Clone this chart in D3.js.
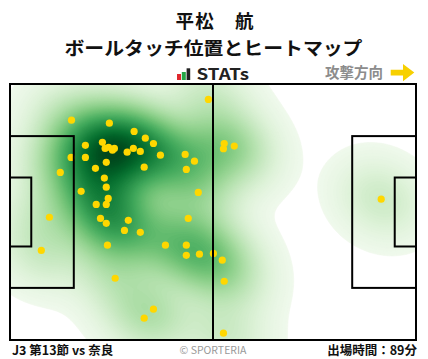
<!DOCTYPE html>
<html><head><meta charset="utf-8">
<script src="https://cdn.jsdelivr.net/npm/d3@7"></script>
<style>
html,body{margin:0;padding:0;background:#fff;}
svg{display:block;}
text{font-family:"Noto Sans CJK JP","Noto Sans",sans-serif;}
</style></head>
<body>
<svg id="chart" width="428" height="359"></svg>
<script>
// ---- data (pitch coordinates in metres, 105 x 68, attacking to the right) ----
const touchX = [51.3,15.9,25.7,32.1,35.0,23.9,37.1,19.5,24.6,25.5,27.0,26.5,30.3,31.9,33.7,38.9,45.3,47.7,15.8,19.5,
  24.9,22.1,34.7,45.6,13.0,24.4,24.9,18.4,48.7,25.4,22.3,24.9,10.2,23.4,24.9,30.6,46.1,29.6,33.7,8.1,
  25.2,40.2,45.6,45.6,49.0,52.6,27.2,37.1,34.7,54.9,55.4,55.2,55.4,55.2,58.0,96.0];
const touchY = [4.1,9.6,10.4,12.6,14.4,15.5,15.8,16.3,17.1,16.8,17.1,17.6,18.1,17.1,17.9,18.9,18.7,20.5,19.5,19.5,
  20.8,22.4,22.1,22.7,23.5,25.0,27.4,28.5,28.8,30.4,32.0,32.0,35.4,35.7,37.0,36.2,35.7,38.9,39.4,44.2,
  42.8,42.8,42.8,45.5,45.2,45.0,51.6,59.8,62.2,46.8,52.4,66.2,15.8,17.2,16.5,30.6];
const titleLines = ["平松\u3000航", "ボールタッチ位置とヒートマップ"];
const brandLabel = "STATs";
const directionLabel = "攻撃方向";
const footerLeft = "J3 第13節 vs 奈良";
const footerCenter = "© SPORTERIA";
const footerRight = "出場時間：89分";
const pitchLength = 105, pitchWidth = 68;

// ---- layout ----
const svg = d3.select("#chart");
const X0 = 10, X1 = 416, Y0 = 84, Y1 = 340;
const x = d3.scaleLinear().domain([0, pitchLength]).range([X0, X1]);
const y = d3.scaleLinear().domain([0, pitchWidth]).range([Y0, Y1]);

// titles
svg.append("text").attr("x", 214.5).attr("y", 27.5).attr("text-anchor", "middle")
  .attr("font-size", 18.5).attr("font-weight", 700).attr("fill", "#111")
  .attr("textLength", 78).attr("lengthAdjust", "spacing").text(titleLines[0]);
svg.append("text").attr("x", 213.5).attr("y", 54.5).attr("text-anchor", "middle")
  .attr("font-size", 18.5).attr("font-weight", 700).attr("fill", "#111")
  .attr("textLength", 298).attr("lengthAdjust", "spacingAndGlyphs").text(titleLines[1]);

// STATs logo
const logo = svg.append("g");
logo.append("rect").attr("x", 177).attr("y", 74).attr("width", 4).attr("height", 6).attr("fill", "#e0282e");
logo.append("rect").attr("x", 181.8).attr("y", 72).attr("width", 4).attr("height", 8).attr("fill", "#26a646");
logo.append("rect").attr("x", 186.6).attr("y", 68.3).attr("width", 3.6).attr("height", 11.7).attr("fill", "#222");
svg.append("text").attr("x", 196.5).attr("y", 80).attr("font-family", "'DejaVu Sans',sans-serif")
  .attr("font-size", 16).attr("font-weight", 700).attr("fill", "#222")
  .attr("textLength", 52.5).attr("lengthAdjust", "spacingAndGlyphs").text(brandLabel);

// direction
svg.append("text").attr("x", 325).attr("y", 77.5).attr("font-size", 14.5).attr("font-weight", 700)
  .attr("fill", "#8c8c8c").text(directionLabel);
svg.append("path")
  .attr("d", "M390.7,69.8 L403,69.8 L403,64 L414.3,72.6 L403,81.2 L403,75.4 L390.7,75.4 Z")
  .attr("fill", "#f7d000");

// ---- KDE (gaussian kernel scaled from the data covariance) ----
const n = touchX.length;
const mx = d3.mean(touchX), my = d3.mean(touchY);
let sxx = 0, syy = 0, sxy = 0;
for (let i = 0; i < n; i++) {
  const dx = touchX[i] - mx, dy = touchY[i] - my;
  sxx += dx * dx; syy += dy * dy; sxy += dx * dy;
}
sxx /= (n - 1); syy /= (n - 1); sxy /= (n - 1);
const fac = Math.pow(n, -1 / 6) * 0.84;
const kxx = sxx * fac * fac, kyy = syy * fac * fac, kxy = sxy * fac * fac;
const det = kxx * kyy - kxy * kxy;
const ixx = kyy / det, iyy = kxx / det, ixy = -kxy / det;

const cell = 2;
const gw = Math.ceil((X1 - X0) / cell), gh = Math.ceil((Y1 - Y0) / cell);
const values = new Float64Array(gw * gh);
for (let j = 0; j < gh; j++) {
  const py = y.invert(Y0 + (j + 0.5) * cell);
  for (let i = 0; i < gw; i++) {
    const px = x.invert(X0 + (i + 0.5) * cell);
    let s = 0;
    for (let k = 0; k < n; k++) {
      const dx = px - touchX[k], dy = py - touchY[k];
      s += Math.exp(-0.5 * (ixx * dx * dx + 2 * ixy * dx * dy + iyy * dy * dy));
    }
    values[j * gw + i] = s;
  }
}
const vmax = d3.max(values);
// lowest level: a lone touch gives a patch about 16 m wide (x) around it
const sigXm = Math.sqrt(1 / ixx);
const t0 = Math.exp(-0.5 * Math.pow(16 / sigXm, 2));
const gamma = 0.65;
const L = 100;
// thresholds evenly spaced in colour, so each band is one small colour step
const thresholds = d3.range(L).map(i => t0 + (vmax - t0) * Math.pow(i / L, 1 / gamma));
const color = v => d3.interpolateGreens(0.05 + 0.95 * Math.pow((v - t0) / (vmax - t0), gamma));

const contours = d3.contours().size([gw, gh]).thresholds(thresholds)(Array.from(values));
const proj = d3.geoTransform({ point: function (px, py) { this.stream.point(X0 + px * cell, Y0 + py * cell); } });
const path = d3.geoPath(proj);

svg.append("clipPath").attr("id", "pitchClip").append("rect")
  .attr("x", X0).attr("y", Y0).attr("width", X1 - X0).attr("height", Y1 - Y0);
svg.append("rect").attr("x", X0).attr("y", Y0).attr("width", X1 - X0).attr("height", Y1 - Y0).attr("fill", "#fff");
svg.append("g").attr("clip-path", "url(#pitchClip)")
  .selectAll("path").data(contours).join("path")
  .attr("d", path).attr("fill", d => color(d.value))
  .attr("stroke", d => color(d.value)).attr("stroke-width", 0.6);

// ---- touches ----
svg.append("g").selectAll("circle").data(d3.range(n)).join("circle")
  .attr("cx", i => x(touchX[i])).attr("cy", i => y(touchY[i])).attr("r", 3.6)
  .attr("fill", "#ffd700");

// ---- pitch lines ----
const lines = svg.append("g").attr("fill", "none").attr("stroke", "#000").attr("stroke-width", 2);
lines.append("rect").attr("x", x(0)).attr("y", y(0)).attr("width", x(pitchLength) - x(0)).attr("height", y(pitchWidth) - y(0));
lines.append("line").attr("x1", x(pitchLength / 2)).attr("x2", x(pitchLength / 2)).attr("y1", y(0)).attr("y2", y(pitchWidth));
const boxes = [[16.5, 40.32], [5.5, 18.32]];
boxes.forEach(([d, w]) => {
  lines.append("rect").attr("x", x(0)).attr("y", y(pitchWidth / 2 - w / 2))
    .attr("width", x(d) - x(0)).attr("height", y(pitchWidth / 2 + w / 2) - y(pitchWidth / 2 - w / 2));
  lines.append("rect").attr("x", x(pitchLength - d)).attr("y", y(pitchWidth / 2 - w / 2))
    .attr("width", x(pitchLength) - x(pitchLength - d)).attr("height", y(pitchWidth / 2 + w / 2) - y(pitchWidth / 2 - w / 2));
});

// ---- footer ----
svg.append("text").attr("x", 12).attr("y", 354.5).attr("font-size", 12.5).attr("font-weight", 700)
  .attr("fill", "#111").text(footerLeft);
svg.append("text").attr("x", 213).attr("y", 353.5).attr("text-anchor", "middle").attr("font-size", 10.5)
  .attr("font-family", "Roboto,'Noto Sans',sans-serif").attr("fill", "#999").text(footerCenter);
svg.append("text").attr("x", 417).attr("y", 354.5).attr("text-anchor", "end").attr("font-size", 12.5)
  .attr("font-weight", 700).attr("fill", "#111").text(footerRight);
</script>
</body></html>
